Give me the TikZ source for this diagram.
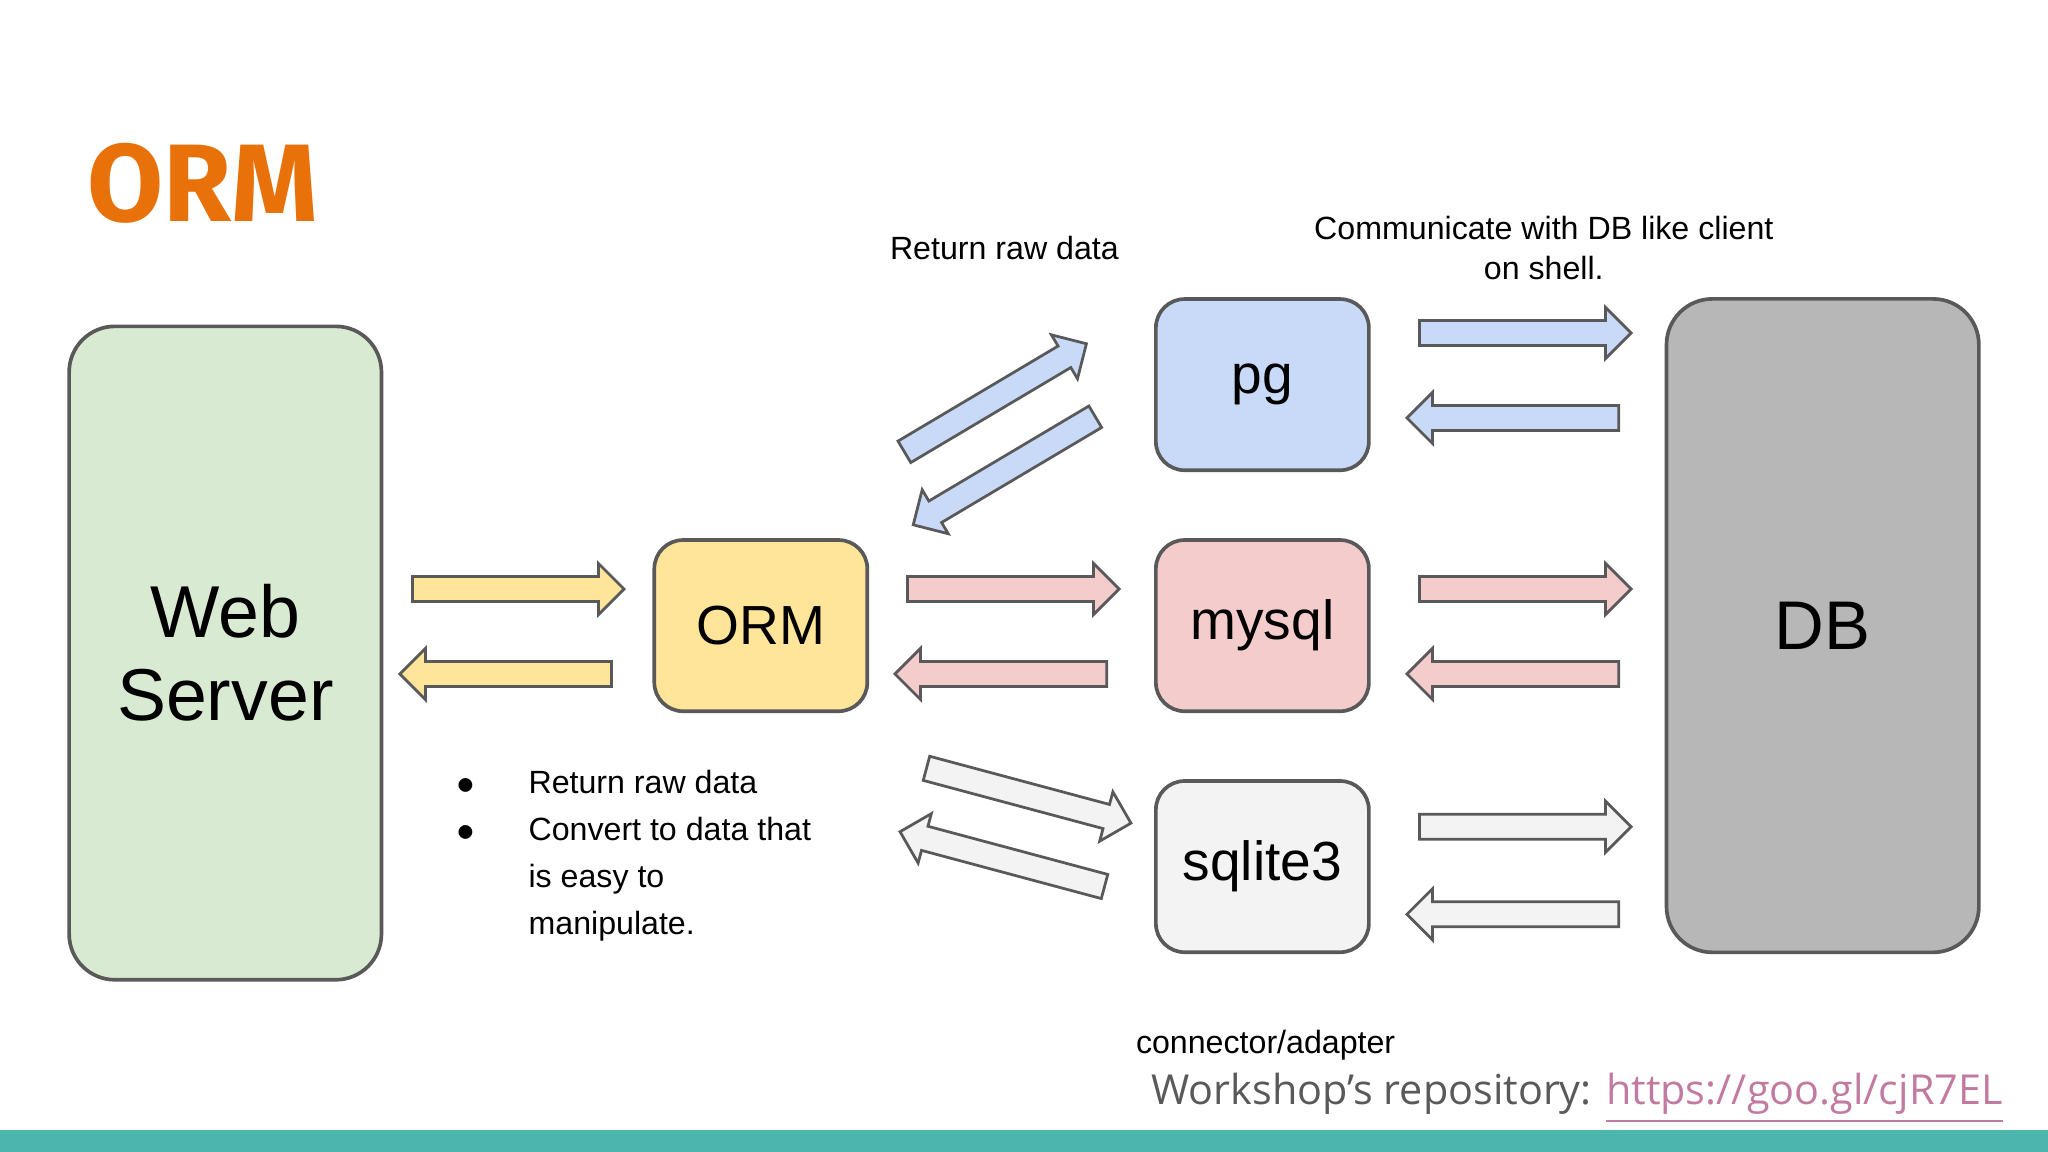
\documentclass[tikz,border=0pt]{standalone}
\usepackage{fontspec}
\setmainfont{Liberation Sans}
\newfontfamily\titlefont{Fira Sans}
\newfontfamily\osans{Open Sans}
\usetikzlibrary{shapes.arrows}
\definecolor{ttl}{HTML}{E8710A}
\definecolor{bord}{HTML}{595959}
\definecolor{cgreen}{HTML}{D9EAD3}
\definecolor{cyel}{HTML}{FFE599}
\definecolor{cblue}{HTML}{C9DAF8}
\definecolor{cpink}{HTML}{F4CCCC}
\definecolor{cgray}{HTML}{F3F3F3}
\definecolor{cdb}{HTML}{B7B7B7}
\definecolor{teal}{HTML}{4DB6AC}
\definecolor{link}{HTML}{C27BA0}
\begin{document}
\begin{tikzpicture}[x=0.01cm,y=-0.01cm,
  box/.style={draw=bord,line width=0.8pt,rounded corners=0.22cm,align=center,inner sep=0},
  small/.style={box,minimum width=1.63cm,minimum height=1.31cm,font=\fontsize{12}{14}\selectfont},
  arr/.style={single arrow,draw=bord,line width=0.6pt,inner sep=0.085cm,single arrow head extend=0.1cm,single arrow head indent=0cm,minimum height=1.62cm},
  lbl/.style={font=\fontsize{7}{9}\selectfont,align=center,inner sep=0}]
\useasboundingbox (0,0) rectangle (1568,882);
\fill[teal] (0,865) rectangle (1568,882);
\node[anchor=west,text=ttl,inner sep=0,font=\titlefont\bfseries\fontsize{24}{28}\selectfont] (title) at (66,140) {ORM};
\node[box,fill=cgreen,minimum width=2.39cm,minimum height=5cm,rounded corners=0.35cm,font=\fontsize{16}{18}\selectfont] (web) at (172.5,500) {Web\\Server};
\node[small,fill=cyel] (orm) at (582.5,479) {ORM};
\node[small,fill=cblue] (pg) at (966.5,294.5) {pg};
\node[small,fill=cpink] (mysql) at (966.5,479) {mysql};
\node[small,fill=cgray] (sqlite) at (966.5,663.5) {sqlite3};
\node[box,fill=cdb,minimum width=2.39cm,minimum height=5cm,rounded corners=0.35cm,font=\fontsize{15}{18}\selectfont] (db) at (1395.5,479) {DB};
% horizontal arrows
\node[arr,fill=cyel] (a1) at (392,451) {};
\node[arr,fill=cyel,shape border rotate=180] (a2) at (392,516) {};
\node[arr,fill=cpink] (a3) at (771,451) {};
\node[arr,fill=cpink,shape border rotate=180] (a4) at (771,516) {};
\node[arr,fill=cpink] (a5) at (1163,451) {};
\node[arr,fill=cpink,shape border rotate=180] (a6) at (1163,516) {};
\node[arr,fill=cblue] (a7) at (1163,255) {};
\node[arr,fill=cblue,shape border rotate=180] (a8) at (1163,320) {};
\node[arr,fill=cgray] (a9) at (1163,633) {};
\node[arr,fill=cgray,shape border rotate=180] (a10) at (1163,700) {};
% diagonal arrows
\node[arr,fill=cblue,rotate=30.7] (d1) at (758,307) {};
\node[arr,fill=cblue,rotate=210.7] (d2) at (773,358) {};
\node[arr,fill=cgray,rotate=-15] (d3) at (783,608) {};
\node[arr,fill=cgray,rotate=165] (d4) at (772,659) {};
% labels
\node[lbl] (l1) at (769,190) {Return raw data};
\node[lbl,font=\fontsize{7}{8.6}\selectfont] (l2) at (1182,190) {Communicate with DB like client\\on shell.};
\node[lbl] (b1) at (357,602) {$\bullet$};
\node[lbl] (b2) at (357,638) {$\bullet$};
\node[lbl,anchor=north west,align=left,font=\fontsize{7}{10.2}\selectfont] (l3) at (404,589) {Return raw data\\Convert to data that\\is easy to\\manipulate.};
\node[lbl] (l4) at (969,800) {connector/adapter};
\node[anchor=east,inner sep=0,text=bord,font=\osans\fontsize{9}{11}\selectfont] (l5) at (1534,841) {Workshop’s repository: \textcolor{link}{\underline{https://goo.gl/cjR7EL}}};
\end{tikzpicture}
\end{document}
